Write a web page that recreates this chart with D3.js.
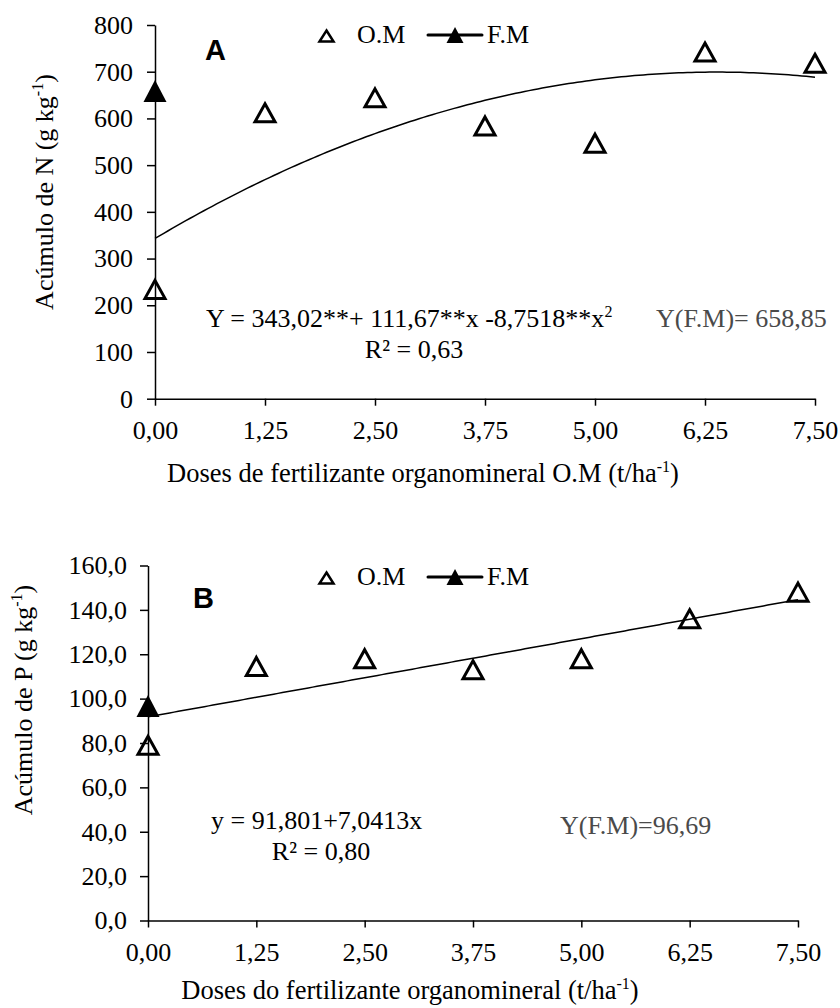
<!DOCTYPE html>
<html>
<head>
<meta charset="utf-8">
<script src="https://cdn.jsdelivr.net/npm/d3@7"></script>
<style>
  body { margin: 0; background: #fff; }
  text { font-family: "Liberation Serif", "Times New Roman", serif; fill: #000; }
</style>
</head>
<body>
<div id="chart"></div>
<script>
// Data
const doses = [0, 1.25, 2.5, 3.75, 5, 6.25, 7.5]
const nOM = [234, 612, 644, 584, 547, 742, 718]
const nFM = [658.85]
const pOM = [79, 114.5, 118, 113, 118, 136, 148]
const pFM = [96.69]
// regression coefficients (c0 + c1 x + c2 x^2)
const nFit = [343.02, 111.67, -8.7518]
const pFit = [91.801, 7.0413]
const nTicks = [0, 100, 200, 300, 400, 500, 600, 700, 800]
const pTicks = [0, 20, 40, 60, 80, 100, 120, 140, 160]

const W = 840, H = 1008

const svg = d3.select("#chart")
  .append("svg")
    .attr("width", W)
    .attr("height", H)

svg.append("rect").attr("width", W).attr("height", H).attr("fill", "#fff")

const comma = (d, n) => d.toFixed(n).replace(".", ",")

const panels = [
  {
    letter: "A", om: nOM, fm: nFM, fit: nFit, ticks: nTicks, yMax: 800,
    yFmt: d => String(d),
    xr: [155, 815], yr: [398.7, 25], yPad: 14,
    letterPos: [205, 60], legendY: 36, legendText: 43,
    yTitle: {x: 53, y: 192, v: "N"},
    xTitle: {x: 423, y: 482, t: "Doses de fertilizante organomineral O.M (t/ha"},
    eq: [
      {x: 206, y: 327, anchor: "start", parts: ["Y = 343,02**+ 111,67**x -8,7518**x", "2"]},
      {x: 414, y: 358, anchor: "middle", parts: ["R² = 0,63"]},
      {x: 656, y: 327, anchor: "start", parts: ["Y(F.M)= 658,85"], gray: true},
    ],
  },
  {
    letter: "B", om: pOM, fm: pFM, fit: pFit, ticks: pTicks, yMax: 160,
    yFmt: d => comma(d, 1),
    xr: [148, 798], yr: [920.5, 565.5], yPad: 13,
    letterPos: [193, 608], legendY: 578, legendText: 585,
    yTitle: {x: 32, y: 700, v: "P"},
    xTitle: {x: 410, y: 999, t: "Doses do fertilizante organomineral (t/ha"},
    eq: [
      {x: 211, y: 829, anchor: "start", parts: ["y = 91,801+7,0413x"]},
      {x: 321, y: 860, anchor: "middle", parts: ["R² = 0,80"]},
      {x: 560, y: 834, anchor: "start", parts: ["Y(F.M)=96,69"], gray: true},
    ],
  },
]

const tri = (w, h) => `M0,${-h / 2}L${w / 2},${h / 2}L${-w / 2},${h / 2}Z`

panels.forEach(p => {
  const g = svg.append("g")

  const x = d3.scaleLinear().domain([0, 7.5]).range(p.xr)
  const y = d3.scaleLinear().domain([0, p.yMax]).range(p.yr)

  // Axes
  const xAxis = g.append("g")
    .attr("transform", `translate(0,${p.yr[0]})`)
    .call(d3.axisBottom(x)
      .tickValues(doses)
      .tickFormat(d => comma(d, 2))
      .tickSize(7)
      .tickSizeOuter(0)
      .tickPadding(15))

  const yAxis = g.append("g")
    .attr("transform", `translate(${p.xr[0]},0)`)
    .call(d3.axisLeft(y)
      .tickValues(p.ticks)
      .tickFormat(p.yFmt)
      .tickSize(8)
      .tickSizeOuter(0)
      .tickPadding(p.yPad))

  ;[xAxis, yAxis].forEach(a => {
    a.selectAll("path, line").attr("stroke", "#000").attr("stroke-width", 1.5)
    a.selectAll("text")
      .attr("fill", "#000")
      .style("font-family", "'Liberation Serif', 'Times New Roman', serif")
      .style("font-size", "26px")
  })

  // Fitted curve
  const xs = d3.range(0, 7.5001, 0.05)
  const fitY = v => p.fit.reduce((s, c, i) => s + c * Math.pow(v, i), 0)
  g.append("path")
    .attr("fill", "none")
    .attr("stroke", "#000")
    .attr("stroke-width", 1.5)
    .attr("d", d3.line().x(d => x(d)).y(d => y(fitY(d)))(xs))

  // O.M markers
  g.selectAll("path.om")
    .data(p.om)
    .enter()
    .append("path")
    .classed("om", true)
    .attr("transform", (d, i) => `translate(${x(doses[i])},${y(d)})`)
    .attr("d", tri(20, 18))
    .attr("fill", "none")
    .attr("stroke", "#000")
    .attr("stroke-width", 3)
    .attr("stroke-linejoin", "miter")

  // F.M marker
  g.selectAll("path.fm")
    .data(p.fm)
    .enter()
    .append("path")
    .classed("fm", true)
    .attr("transform", (d, i) => `translate(${x(doses[i])},${y(d)})`)
    .attr("d", tri(23, 22))
    .attr("fill", "#000")

  // Panel letter
  g.append("text")
    .attr("x", p.letterPos[0])
    .attr("y", p.letterPos[1])
    .style("font-family", "'Liberation Sans', Arial, sans-serif")
    .style("font-weight", "bold")
    .style("font-size", "29px")
    .text(p.letter)

  // Legend
  const lg = g.append("g")
  lg.append("path")
    .attr("transform", `translate(326.5,${p.legendY})`)
    .attr("d", tri(14, 11))
    .attr("fill", "none")
    .attr("stroke", "#000")
    .attr("stroke-width", 2.5)
  lg.append("text")
    .attr("x", 357).attr("y", p.legendText)
    .style("font-size", "26px")
    .text("O.M")
  lg.append("line")
    .attr("x1", 428).attr("x2", 482)
    .attr("y1", p.legendY - 1).attr("y2", p.legendY - 1)
    .attr("stroke", "#000")
    .attr("stroke-width", 3)
    .attr("stroke-linecap", "round")
  lg.append("path")
    .attr("transform", `translate(455,${p.legendY - 1})`)
    .attr("d", tri(17, 16))
    .attr("fill", "#000")
  lg.append("text")
    .attr("x", 487).attr("y", p.legendText)
    .style("font-size", "26px")
    .text("F.M")

  // Y title
  const yt = g.append("text")
    .attr("transform", `translate(${p.yTitle.x},${p.yTitle.y}) rotate(-90)`)
    .attr("text-anchor", "middle")
    .style("font-size", "26px")
  yt.append("tspan").text(`Acúmulo de ${p.yTitle.v} (g kg`)
  yt.append("tspan").attr("dy", -10).style("font-size", "16px").text("-1")
  yt.append("tspan").attr("dy", 10).text(")")

  // X title
  const xt = g.append("text")
    .attr("x", p.xTitle.x).attr("y", p.xTitle.y)
    .attr("text-anchor", "middle")
    .style("font-size", "26.5px")
  xt.append("tspan").text(p.xTitle.t)
  xt.append("tspan").attr("dy", -10).style("font-size", "16px").text("-1")
  xt.append("tspan").attr("dy", 10).text(")")

  // Equations
  p.eq.forEach(e => {
    const t = g.append("text")
      .attr("x", e.x).attr("y", e.y)
      .attr("text-anchor", e.anchor)
      .style("font-size", "26px")
      .style("fill", e.gray ? "#4a4a4a" : "#000")
    t.append("tspan").text(e.parts[0])
    if (e.parts[1]) {
      t.append("tspan").attr("dy", -10).style("font-size", "16px").text(e.parts[1])
    }
  })
})
</script>
</body>
</html>
